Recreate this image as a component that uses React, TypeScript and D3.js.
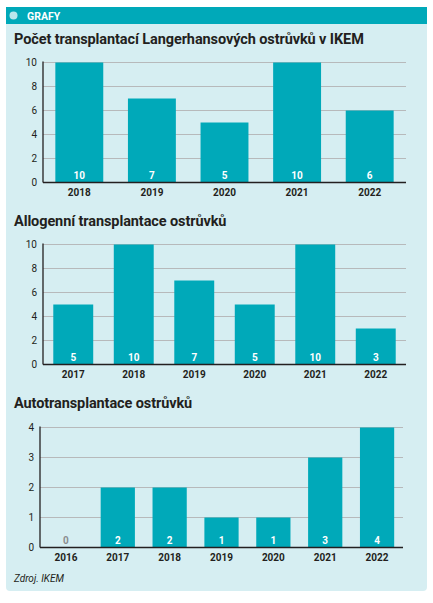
import React from "react";
import * as d3 from "d3";

const chart1Title = "Počet transplantací Langerhansových ostrůvků v IKEM";
const chart1Years = ["2018", "2019", "2020", "2021", "2022"];
const chart1Values = [10, 7, 5, 10, 6];
const chart1Ticks = [0, 2, 4, 6, 8, 10];

const chart2Title = "Allogenní transplantace ostrůvků";
const chart2Years = ["2017", "2018", "2019", "2020", "2021", "2022"];
const chart2Values = [5, 10, 7, 5, 10, 3];
const chart2Ticks = [0, 2, 4, 6, 8, 10];

const chart3Title = "Autotransplantace ostrůvků";
const chart3Years = ["2016", "2017", "2018", "2019", "2020", "2021", "2022"];
const chart3Values = [0, 2, 2, 1, 1, 3, 4];
const chart3Ticks = [0, 1, 2, 3, 4];

const TEAL = "#00a9b9";
const PANEL = "#d6eef2";
const GRID = "#b7b9bb";
const DARK = "#231f20";
const FONT = "Roboto, 'DejaVu Sans', sans-serif";

type BarChartProps = {
  title: string;
  years: string[];
  values: number[];
  ticks: number[];
  titleY: number;
  top: number;
  bottom: number;
  left: number;
  right: number;
};

function BarChart({ title, years, values, ticks, titleY, top, bottom, left, right }: BarChartProps) {
  const x = d3.scaleBand<string>().domain(years).range([left, right]).paddingInner(0.34).paddingOuter(0.17);
  const y = d3.scaleLinear().domain([0, d3.max(ticks) as number]).range([bottom, top]);
  return (
    <g>
      <text x={14} y={titleY} fontFamily={FONT} fontWeight={700} fontSize={14.5} fill={DARK} letterSpacing={-0.1}>
        {title}
      </text>
      {ticks.map((t) => (
        <g key={t}>
          {t > 0 && <line x1={left} x2={right} y1={y(t)} y2={y(t)} stroke={GRID} strokeWidth={1} />}
          <text x={left - 6} y={y(t)} dy="0.35em" textAnchor="end" fontFamily={FONT} fontSize={10} fill={DARK}>
            {t}
          </text>
        </g>
      ))}
      {years.map((yr, i) => {
        const v = values[i];
        const bx = x(yr) as number;
        const bw = x.bandwidth();
        return (
          <g key={yr}>
            {v > 0 && <rect x={bx} y={y(v)} width={bw} height={y(0) - y(v)} fill={TEAL} />}
            <text x={bx + bw / 2} y={bottom - 4} textAnchor="middle" fontFamily={FONT} fontWeight={700} fontSize={10} fill={v > 0 ? "#ffffff" : "#8a8c8e"}>
              {v}
            </text>
            <text x={bx + bw / 2} y={bottom + 13} textAnchor="middle" fontFamily={FONT} fontWeight={700} fontSize={10} fill={DARK}>
              {yr}
            </text>
          </g>
        );
      })}
      <line x1={left} x2={left} y1={top - 1} y2={bottom} stroke={DARK} strokeWidth={1.3} />
      <line x1={left} x2={right} y1={bottom} y2={bottom} stroke={DARK} strokeWidth={1.3} />
    </g>
  );
}

export default function App() {
  return (
    <svg width={433} height={603} style={{ position: "absolute", left: 0, top: 0 }}>
      <rect x={0} y={0} width={433} height={603} fill="#ffffff" />
      <path d="M6,7 H427 V587 Q427,591 423,591 H10 Q6,591 6,587 Z" fill={PANEL} />
      <path d="M6,7 H427 V24 H6 Z" fill={TEAL} />
      <circle cx={13.5} cy={15.5} r={4} fill="#b9e6ec" />
      <text x={27} y={19.5} fontFamily={FONT} fontWeight={700} fontSize={10.5} fill="#ffffff">GRAFY</text>
      <BarChart title={chart1Title} years={chart1Years} values={chart1Values} ticks={chart1Ticks} titleY={44} top={62.5} bottom={182.5} left={43} right={406} />
      <BarChart title={chart2Title} years={chart2Years} values={chart2Values} ticks={chart2Ticks} titleY={226} top={244.5} bottom={364.5} left={43} right={406} />
      <BarChart title={chart3Title} years={chart3Years} values={chart3Values} ticks={chart3Ticks} titleY={408} top={427.5} bottom={547.5} left={40} right={403} />
      <text x={14} y={582} fontFamily={FONT} fontStyle="italic" fontSize={10} fill={DARK}>Zdroj. IKEM</text>
    </svg>
  );
}
